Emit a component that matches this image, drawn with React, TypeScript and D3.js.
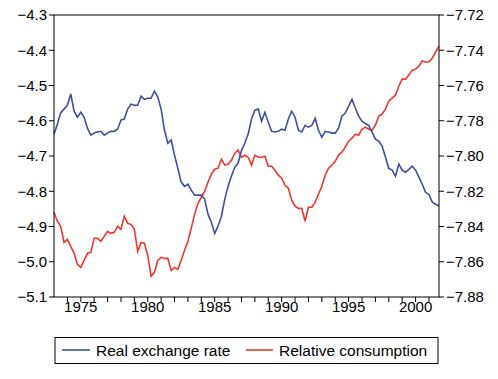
import React from "react";
import * as d3 from "d3";

const startYear = 1973;
const years = d3.range(1974, 2002);
const yearLabels = [1975, 1980, 1985, 1990, 1995, 2000];
const leftTicks = [-4.3, -4.4, -4.5, -4.6, -4.7, -4.8, -4.9, -5.0, -5.1];
const rightTicks = [-7.72, -7.74, -7.76, -7.78, -7.80, -7.82, -7.84, -7.86, -7.88];
const seriesNames = ["Real exchange rate", "Relative consumption"];

// Quarterly values, 1973Q1 .. 2001Q4
const realExchangeRate = [
  -4.638, -4.61, -4.578, -4.567, -4.556, -4.524, -4.573, -4.59, -4.576, -4.59,
  -4.621, -4.641, -4.635, -4.632, -4.63, -4.641, -4.635, -4.63, -4.63, -4.624,
  -4.598, -4.595, -4.567, -4.553, -4.556, -4.556, -4.53, -4.539, -4.536, -4.536,
  -4.516, -4.533, -4.567, -4.627, -4.664, -4.655, -4.698, -4.735, -4.774, -4.786,
  -4.78, -4.797, -4.811, -4.811, -4.811, -4.823, -4.865, -4.888, -4.92, -4.899,
  -4.871, -4.823, -4.786, -4.757, -4.732, -4.72, -4.684, -4.664, -4.638, -4.595,
  -4.57, -4.567, -4.601, -4.576, -4.604, -4.63, -4.632, -4.63, -4.624, -4.627,
  -4.595, -4.573, -4.59, -4.627, -4.632, -4.613, -4.618, -4.613, -4.593, -4.627,
  -4.647, -4.63, -4.632, -4.635, -4.635, -4.621, -4.587, -4.578, -4.559, -4.539,
  -4.564, -4.587, -4.601, -4.608, -4.613, -4.632, -4.652, -4.658, -4.672, -4.703,
  -4.735, -4.74, -4.757, -4.723, -4.74, -4.746, -4.738, -4.729, -4.74, -4.76,
  -4.78, -4.803, -4.809, -4.831, -4.837, -4.842,
];

const relativeConsumption = [
  -7.8319, -7.837, -7.8399, -7.849, -7.8473, -7.8513, -7.8552, -7.8615, -7.8632, -7.8592,
  -7.8552, -7.8547, -7.8467, -7.8467, -7.8484, -7.8456, -7.8427, -7.8439, -7.8433, -7.8399,
  -7.8416, -7.8342, -7.8382, -7.8388, -7.8416, -7.8541, -7.849, -7.8495, -7.8564, -7.8683,
  -7.866, -7.8592, -7.8575, -7.8581, -7.8581, -7.8649, -7.8632, -7.8643, -7.8592, -7.8535,
  -7.8484, -7.841, -7.8331, -7.8268, -7.8234, -7.82, -7.8149, -7.8103, -7.8075, -7.8069,
  -7.8018, -7.8052, -7.8047, -7.8024, -7.7984, -7.7967, -7.8007, -7.7995, -7.8007, -7.8052,
  -7.7995, -7.8007, -7.8007, -7.8001, -7.8058, -7.8058, -7.8081, -7.8109, -7.8126, -7.8166,
  -7.8183, -7.8251, -7.8285, -7.8297, -7.8297, -7.837, -7.8291, -7.8291, -7.8263, -7.8217,
  -7.8172, -7.8109, -7.8069, -7.8052, -7.803, -7.7995, -7.7978, -7.795, -7.7916, -7.7899,
  -7.7876, -7.7882, -7.7848, -7.7836, -7.7848, -7.7853, -7.7825, -7.7774, -7.7763, -7.7734,
  -7.7689, -7.7672, -7.7655, -7.7603, -7.7564, -7.7564, -7.7541, -7.7513, -7.7507, -7.749,
  -7.7461, -7.7467, -7.7467, -7.7444, -7.741, -7.7376,
];

const BLUE = "#3d4ea3";
const RED = "#f0362a";
const FONT = "Arial, 'Liberation Sans', Helvetica, sans-serif";

export default function App() {
  const left = 54, right = 439, top = 15, bottom = 297;
  const x = d3.scaleLinear().domain([startYear, 2001.75]).range([left, right]);
  const yL = d3.scaleLinear().domain([-5.1, -4.3]).range([bottom, top]);
  const yR = d3.scaleLinear().domain([-7.88, -7.72]).range([bottom, top]);
  const fL = d3.format(".1f");
  const fR = d3.format(".2f");

  const lineL = d3.line<number>().x((_, i) => x(startYear + i / 4)).y((d) => yL(d));
  const lineR = d3.line<number>().x((_, i) => x(startYear + i / 4)).y((d) => yR(d));

  const legY = 350;
  return (
    <svg width={498} height={379} style={{ position: "absolute", left: 0, top: 0, background: "#fff" }} fontFamily={FONT}>
      <rect x={0} y={0} width={498} height={379} fill="#fff" />
      <path d={lineR(relativeConsumption) || ""} fill="none" stroke={RED} strokeWidth={1.6} />
      <path d={lineL(realExchangeRate) || ""} fill="none" stroke={BLUE} strokeWidth={1.6} />
      <rect x={left} y={top} width={right - left} height={bottom - top} fill="none" stroke="#000" strokeWidth={1} />
      {leftTicks.map((t) => (
        <g key={"l" + t}>
          <line x1={left - 5} x2={left} y1={yL(t)} y2={yL(t)} stroke="#000" />
          <text x={left - 7} y={yL(t)} dy="0.36em" textAnchor="end" fontSize={15} fill="#000">{fL(t)}</text>
        </g>
      ))}
      {rightTicks.map((t) => (
        <g key={"r" + t}>
          <line x1={right} x2={right + 5} y1={yR(t)} y2={yR(t)} stroke="#000" />
          <text x={right + 7} y={yR(t)} dy="0.36em" textAnchor="start" fontSize={15} fill="#000">{fR(t)}</text>
        </g>
      ))}
      {years.map((yr) => (
        <line key={"t" + yr} x1={x(yr)} x2={x(yr)} y1={bottom} y2={bottom + 5} stroke="#000" />
      ))}
      {yearLabels.map((yr) => (
        <text key={"y" + yr} x={x(yr)} y={bottom + 15} textAnchor="middle" fontSize={15} fill="#000">{yr}</text>
      ))}
      <rect x={55} y={337.5} width={383} height={26} fill="#fff" stroke="#000" strokeWidth={1} />
      <line x1={62} x2={90} y1={legY} y2={legY} stroke={BLUE} strokeWidth={1.6} />
      <text x={96} y={legY} dy="0.36em" fontSize={15.5} fill="#000">{seriesNames[0]}</text>
      <line x1={246} x2={273} y1={legY} y2={legY} stroke={RED} strokeWidth={1.6} />
      <text x={279} y={legY} dy="0.36em" fontSize={15.5} fill="#000">{seriesNames[1]}</text>
    </svg>
  );
}
